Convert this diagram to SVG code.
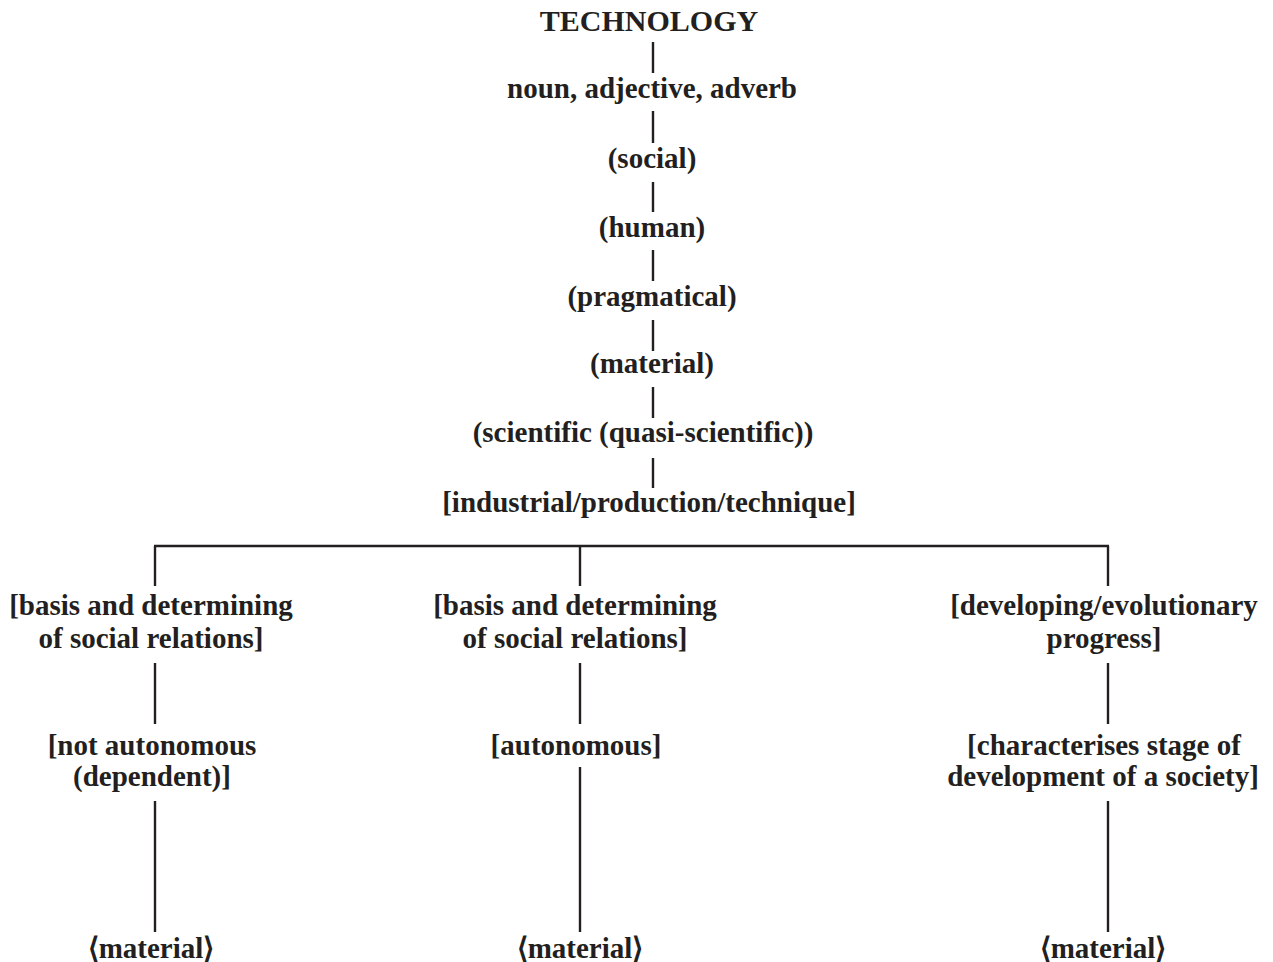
<svg xmlns="http://www.w3.org/2000/svg" width="1273" height="962" viewBox="0 0 1273 962">
  <style>
    .t { font-family: "Liberation Serif", "Times New Roman", serif; font-weight: bold; font-size: 29px; fill: #231f20; text-anchor: middle; }
    .title { font-size: 30px; }
    .c { stroke: #231f20; stroke-width: 2.4; fill: none; }
  </style>
  <rect width="1273" height="962" fill="#ffffff"/>

  <g id="connectors">
    <line class="c" x1="653" y1="42" x2="653" y2="73"/>
    <line class="c" x1="653" y1="111" x2="653" y2="143"/>
    <line class="c" x1="653" y1="182" x2="653" y2="212"/>
    <line class="c" x1="653" y1="250" x2="653" y2="281"/>
    <line class="c" x1="653" y1="320" x2="653" y2="351"/>
    <line class="c" x1="653" y1="387" x2="653" y2="418"/>
    <line class="c" x1="653" y1="458" x2="653" y2="488"/>
    <line class="c" x1="154" y1="546" x2="1109" y2="546"/>
    <line class="c" x1="155" y1="546" x2="155" y2="586"/>
    <line class="c" x1="580" y1="546" x2="580" y2="586"/>
    <line class="c" x1="1108" y1="546" x2="1108" y2="586"/>
    <line class="c" x1="155" y1="663" x2="155" y2="724"/>
    <line class="c" x1="155" y1="801" x2="155" y2="932"/>
    <line class="c" x1="580" y1="663" x2="580" y2="724"/>
    <line class="c" x1="580" y1="767" x2="580" y2="932"/>
    <line class="c" x1="1108" y1="663" x2="1108" y2="724"/>
    <line class="c" x1="1108" y1="801" x2="1108" y2="932"/>
  </g>

  <g id="technology"><text class="t title" x="649" y="31">TECHNOLOGY</text></g>
  <g id="word-class"><text class="t" x="652" y="98">noun, adjective, adverb</text></g>
  <g id="social"><text class="t" x="652" y="168">(social)</text></g>
  <g id="human"><text class="t" x="652" y="237">(human)</text></g>
  <g id="pragmatical"><text class="t" x="652" y="306">(pragmatical)</text></g>
  <g id="material-top"><text class="t" x="652" y="373">(material)</text></g>
  <g id="scientific"><text class="t" x="643" y="442">(scientific (quasi-scientific))</text></g>
  <g id="industrial"><text class="t" x="649" y="512">[industrial/production/technique]</text></g>

  <g id="basis-left">
    <text class="t" x="151" y="615">[basis and determining</text>
    <text class="t" x="151" y="648">of social relations]</text>
  </g>
  <g id="not-autonomous">
    <text class="t" x="152" y="755">[not autonomous</text>
    <text class="t" x="152" y="786">(dependent)]</text>
  </g>
  <g id="material-left"><text class="t" x="151" y="958">⟨material⟩</text></g>

  <g id="basis-middle">
    <text class="t" x="575" y="615">[basis and determining</text>
    <text class="t" x="575" y="648">of social relations]</text>
  </g>
  <g id="autonomous"><text class="t" x="576" y="755">[autonomous]</text></g>
  <g id="material-middle"><text class="t" x="580" y="958">⟨material⟩</text></g>

  <g id="developing">
    <text class="t" x="1104" y="615">[developing/evolutionary</text>
    <text class="t" x="1104" y="648">progress]</text>
  </g>
  <g id="characterises">
    <text class="t" x="1104" y="755">[characterises stage of</text>
    <text class="t" x="1103" y="786">development of a society]</text>
  </g>
  <g id="material-right"><text class="t" x="1103" y="958">⟨material⟩</text></g>
</svg>
